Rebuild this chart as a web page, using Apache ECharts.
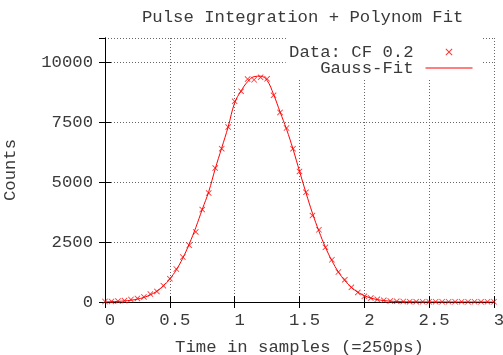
<!DOCTYPE html>
<html>
<head>
<meta charset="utf-8">
<script src="https://cdn.jsdelivr.net/npm/echarts@6/dist/echarts.min.js"></script>
<style>html,body{margin:0;padding:0;background:#fff;}#c{width:503px;height:355px;}</style>
</head>
<body>
<div id="c"></div>
<script>
var titleText = 'Pulse Integration + Polynom Fit';
var xName = 'Time in samples (=250ps)';
var yName = 'Counts';
var dataName = 'Data: CF 0.2';
var fitName = 'Gauss-Fit';
var xTicks = [0, 0.5, 1, 1.5, 2, 2.5, 3];
var yTicks = [0, 2500, 5000, 7500, 10000];

var times = [0,0.05,0.1,0.15,0.2,0.25,0.3,0.35,0.4,0.45,0.5,0.55,0.6,0.65,0.7,0.75,0.8,0.85,0.9,0.95,
  1,1.05,1.1,1.15,1.2,1.25,1.3,1.35,1.4,1.45,1.5,1.55,1.6,1.65,1.7,1.75,1.8,1.85,1.9,1.95,
  2,2.05,2.1,2.15,2.2,2.25,2.3,2.35,2.4,2.45,2.5,2.55,2.6,2.65,2.7,2.75,2.8,2.85,2.9,2.95,3];

var counts = [20,25,40,60,105,150,210,330,440,680,970,1375,1875,2360,2920,3850,4540,5580,6390,7290,
  8360,8780,9290,9260,9360,9300,8610,7900,7250,6390,5440,4570,3600,3010,2280,1760,1250,930,610,400,
  235,165,110,70,45,30,20,15,12,10,10,10,10,10,10,10,10,10,10,10,10];

var fitCounts = [10,15,25,45,75,120,190,300,450,670,960,1340,1830,2420,3100,3860,4600,5550,6420,7300,
  8300,8800,9180,9390,9410,9230,8650,7920,7200,6370,5450,4550,3700,2950,2280,1720,1250,890,610,410,
  265,165,100,60,35,20,12,8,5,4,3,2,2,1,1,1,0,0,0,0,0];

var font = 'Liberation Mono';
var fs = 17.3;
var txt = '#3a3a3a';
var crossPath = 'path://M0,1L1,0L5,4L9,0L10,1L6,5L10,9L9,10L5,6L1,10L0,9L4,5Z';

function pairs(xs, ys) { return xs.map(function (x, i) { return [x, ys[i]]; }); }

var chart = echarts.init(document.getElementById('c'), null, {renderer: 'canvas'});

var axisBase = {
  axisLine: {show: true, lineStyle: {color: '#000', width: 1}},
  axisTick: {show: true, inside: true, length: 6, lineStyle: {color: '#000'}}
};

chart.setOption({
  backgroundColor: '#fff',
  animation: false,
  title: {
    text: titleText, left: 137, top: 4,
    textStyle: {fontFamily: font, fontSize: fs, fontWeight: 'normal', color: txt}
  },
  legend: [
    {
      data: [{name: dataName, icon: crossPath}], right: 20, top: 38, orient: 'vertical', align: 'right',
      itemWidth: 7, itemHeight: 7, padding: [5.5, 30.5, 1.5, 3],
      backgroundColor: '#fff', selectedMode: false,
      formatter: function (n) { return '{t|' + n + '}'; },
      textStyle: {fontFamily: font, fontSize: fs, color: txt,
        rich: {t: {fontFamily: font, fontSize: fs, color: txt, padding: [0, 27, 0, 0]}}}
    },
    {
      data: [{name: fitName, icon: 'rect'}], right: 20, top: 59.5, orient: 'vertical', align: 'right',
      itemWidth: 47, itemHeight: 1.2, padding: [0, 10.5, 2.5, 34.5],
      backgroundColor: '#fff', selectedMode: false,
      textStyle: {fontFamily: font, fontSize: fs, color: txt, padding: [0, 7, 0, 0]}
    }
  ],
  grid: {left: 105, right: 9, top: 38, bottom: 53, containLabel: false, outerBoundsMode: 'none'},
  xAxis: [
    Object.assign({}, axisBase, {
      type: 'value', position: 'bottom', min: xTicks[0], max: xTicks[xTicks.length - 1], interval: 0.5,
      name: xName, nameLocation: 'middle', nameGap: 37,
      nameTextStyle: {fontFamily: font, fontSize: fs, color: txt},
      axisLabel: {fontFamily: font, fontSize: fs, color: txt, margin: 10, padding: [0, 0, 0, 10],
        formatter: function (v) { return String(v); }},
      splitLine: {show: true, lineStyle: {color: '#666', type: [1, 2], width: 1}}
    }),
    Object.assign({}, axisBase, {
      type: 'value', position: 'top', min: xTicks[0], max: xTicks[xTicks.length - 1], interval: 0.5,
      axisLabel: {show: false}, splitLine: {show: false}
    })
  ],
  yAxis: [
    Object.assign({}, axisBase, {
      type: 'value', position: 'left', min: yTicks[0], max: 11000, interval: 2500,
      name: yName, nameLocation: 'middle', nameGap: 86, nameRotate: 90,
      nameTextStyle: {fontFamily: font, fontSize: fs, color: txt},
      axisLabel: {fontFamily: font, fontSize: fs, color: txt, margin: 12, showMaxLabel: false,
        formatter: function (v) { return yTicks.indexOf(v) >= 0 ? String(v) : ''; }},
      splitLine: {show: true, lineStyle: {color: '#666', type: [1, 2], width: 1}}
    }),
    Object.assign({}, axisBase, {
      type: 'value', position: 'right', min: yTicks[0], max: 11000, interval: 2500,
      axisLabel: {show: false}, splitLine: {show: false}
    })
  ],
  series: [
    {
      name: fitName, type: 'line', xAxisIndex: 0, yAxisIndex: 0,
      data: pairs(times, fitCounts), smooth: 0.4, showSymbol: false, symbol: 'none',
      lineStyle: {color: '#ff0000', width: 1}, itemStyle: {color: '#ff0000'}, z: 2
    },
    {
      name: dataName, type: 'scatter', xAxisIndex: 0, yAxisIndex: 0,
      data: pairs(times, counts), symbol: crossPath, symbolSize: 6,
      itemStyle: {color: '#ff0000'}, z: 3
    }
  ]
});
</script>
</body>
</html>
